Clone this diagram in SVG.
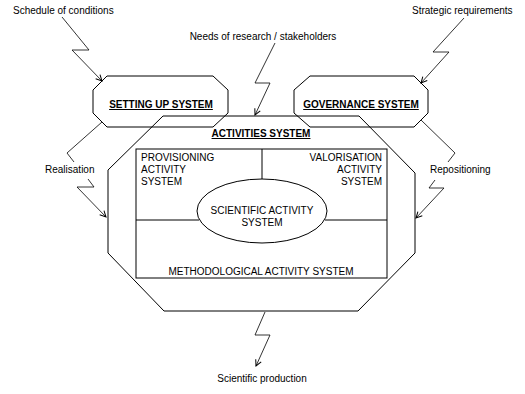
<svg xmlns="http://www.w3.org/2000/svg" width="525" height="394" viewBox="0 0 525 394">
<style>
  text { font-family: "Liberation Sans", Arial, sans-serif; font-size: 10px; fill: #000; }
  .hdr { font-weight: bold; text-decoration: underline; text-anchor: middle; }
  .mid { text-anchor: middle; }
  .end { text-anchor: end; }
  .shape { fill: none; stroke: #000; stroke-width: 1; }
  .conn { fill: none; stroke: #000; stroke-width: 0.8; marker-end: url(#arr); }
</style>
<defs>
  <marker id="arr" markerWidth="8" markerHeight="8" refX="7" refY="4" orient="auto" markerUnits="userSpaceOnUse">
    <path d="M1,1 L7,4 L1,7" fill="none" stroke="#000" stroke-width="1"/>
  </marker>
</defs>
<rect width="525" height="394" fill="#fff"/>

<g id="setting-up">
  <polygon class="shape" points="107,76 213,76 228,90 228,113 213,127 107,127 93,113 93,90"/>
  <text class="hdr" x="161" y="108">SETTING UP SYSTEM</text>
</g>

<g id="governance">
  <polygon class="shape" points="310,76 414,76 428,90 428,113 414,127 310,127 294,113 294,90"/>
  <text class="hdr" x="361" y="108">GOVERNANCE SYSTEM</text>
</g>

<g id="activities">
  <polygon class="shape" points="163,116 359,116 415,173 415,253 358,311 164,311 108,253 108,170"/>
  <text class="hdr" x="261" y="137">ACTIVITIES SYSTEM</text>
</g>

<g id="inner-frame">
  <rect class="shape" x="136" y="149" width="251" height="129"/>
  <line class="shape" x1="262" y1="149" x2="262" y2="179"/>
  <line class="shape" x1="136" y1="220" x2="199" y2="220"/>
  <line class="shape" x1="325" y1="220" x2="387" y2="220"/>
</g>

<g id="provisioning">
  <text x="141" y="161">PROVISIONING</text>
  <text x="141" y="173">ACTIVITY</text>
  <text x="141" y="185">SYSTEM</text>
</g>

<g id="valorisation">
  <text class="end" x="382" y="161">VALORISATION</text>
  <text class="end" x="382" y="173">ACTIVITY</text>
  <text class="end" x="382" y="185">SYSTEM</text>
</g>

<g id="scientific-activity">
  <ellipse class="shape" cx="262" cy="211" rx="65" ry="32"/>
  <text class="mid" x="262" y="214">SCIENTIFIC ACTIVITY</text>
  <text class="mid" x="262" y="226">SYSTEM</text>
</g>

<g id="methodological">
  <text class="mid" x="261" y="275">METHODOLOGICAL ACTIVITY SYSTEM</text>
</g>

<g id="connectors">
  <path class="conn" d="M62,17 L89,50 L72,50 L102,81"/>
  <path class="conn" d="M464,18 L433,52 L449,52 L421,83"/>
  <path class="conn" d="M275,43 L255,83 L270,83 L255,115"/>
  <path class="conn" d="M102,122 L67,153 L74,162 M88,179 L94,187 L77,187 L106,217"/>
  <path class="conn" d="M421,120 L455,153 L448,162 M435,180 L429,188 L444,188 L416,218"/>
  <path class="conn" d="M265,312 L255,335 L270,335 L256,366"/>
</g>

<g id="labels">
  <text x="13" y="14">Schedule of conditions</text>
  <text x="412" y="14">Strategic requirements</text>
  <text class="mid" x="263" y="40">Needs of research / stakeholders</text>
  <text x="45" y="173">Realisation</text>
  <text x="430" y="173">Repositioning</text>
  <text class="mid" x="262" y="382">Scientific production</text>
</g>
</svg>
